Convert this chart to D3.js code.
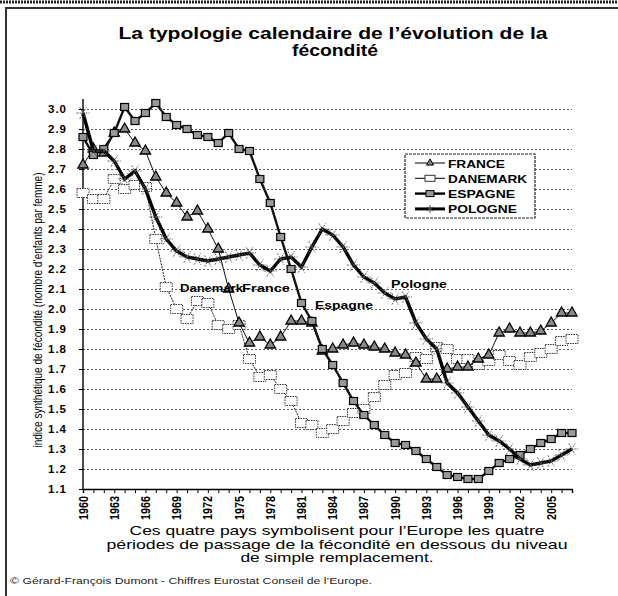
<!DOCTYPE html>
<html>
<head>
<meta charset="utf-8">
<script src="https://d3js.org/d3.v7.min.js"></script>
<style>
  body { margin: 0; background: #fff; }
  svg text { font-family: "Liberation Sans", Arial, sans-serif; }
  .grid line { stroke: #444; stroke-dasharray: 2 2; stroke-width: 0.9; }
</style>
</head>
<body>
<div id="chart"></div>
<script>
// years 1960..2007
const years = d3.range(1960, 2008);
const tickYears = [1960, 1963, 1966, 1969, 1972, 1975, 1978, 1981, 1984, 1987, 1990, 1993, 1996, 1999, 2002, 2005];
const yTicks = d3.range(11, 31).map(d => d / 10);

const france = [2.72, 2.80, 2.78, 2.88, 2.90, 2.83, 2.79, 2.66, 2.58, 2.53, 2.46, 2.49, 2.40, 2.30, 2.10, 1.93,
  1.83, 1.86, 1.82, 1.86, 1.94, 1.94, 1.93, 1.79, 1.80, 1.82, 1.83, 1.82, 1.81, 1.80, 1.78, 1.77,
  1.73, 1.65, 1.65, 1.70, 1.71, 1.71, 1.75, 1.77, 1.88, 1.90, 1.88, 1.88, 1.89, 1.93, 1.98, 1.98];
const danemark = [2.58, 2.55, 2.55, 2.65, 2.60, 2.62, 2.61, 2.35, 2.11, 2.00, 1.95, 2.04, 2.03, 1.92, 1.90, 1.92,
  1.75, 1.66, 1.67, 1.60, 1.54, 1.43, 1.42, 1.38, 1.40, 1.44, 1.48, 1.50, 1.56, 1.62, 1.67, 1.68,
  1.76, 1.75, 1.81, 1.80, 1.75, 1.75, 1.72, 1.74, 1.77, 1.74, 1.72, 1.76, 1.78, 1.80, 1.84, 1.85];
const espagne = [2.86, 2.77, 2.80, 2.88, 3.01, 2.94, 2.98, 3.03, 2.96, 2.92, 2.90, 2.87, 2.86, 2.83, 2.88, 2.80,
  2.79, 2.65, 2.53, 2.36, 2.20, 2.03, 1.94, 1.80, 1.72, 1.63, 1.54, 1.47, 1.42, 1.37, 1.33, 1.32,
  1.29, 1.25, 1.21, 1.17, 1.16, 1.15, 1.15, 1.19, 1.23, 1.25, 1.27, 1.30, 1.33, 1.35, 1.38, 1.38];
const pologne = [2.98, 2.79, 2.79, 2.74, 2.65, 2.69, 2.60, 2.46, 2.35, 2.29, 2.26, 2.25, 2.24, 2.25, 2.26, 2.27,
  2.28, 2.22, 2.19, 2.25, 2.26, 2.21, 2.31, 2.40, 2.37, 2.31, 2.22, 2.16, 2.13, 2.08, 2.05, 2.06,
  1.93, 1.85, 1.80, 1.63, 1.58, 1.51, 1.44, 1.37, 1.34, 1.30, 1.25, 1.22, 1.23, 1.24, 1.27, 1.30];

const W = 618, H = 596;
const svg = d3.select("#chart").append("svg").attr("width", W).attr("height", H);

// frame (top edge is a cut-off text row in the scan)
svg.append("line").attr("x1", 0).attr("x2", W).attr("y1", 2).attr("y2", 2)
  .attr("stroke", "#222").attr("stroke-width", 3).attr("stroke-dasharray", "2 1");
svg.append("rect").attr("x", 6).attr("y", 8).attr("width", W).attr("height", H)
  .attr("fill", "none").attr("stroke", "#333").attr("stroke-width", 2);

// title
svg.append("text").attr("x", 333).attr("y", 39).attr("text-anchor", "middle")
  .attr("font-size", 16).attr("font-weight", "bold")
  .attr("textLength", 429).attr("lengthAdjust", "spacingAndGlyphs")
  .text("La typologie calendaire de l\u2019\u00e9volution de la");
svg.append("text").attr("x", 335).attr("y", 56).attr("text-anchor", "middle")
  .attr("font-size", 16).attr("font-weight", "bold")
  .attr("textLength", 86).attr("lengthAdjust", "spacingAndGlyphs")
  .text("f\u00e9condit\u00e9");

const x = d3.scaleLinear().domain([1960, 2007]).range([83, 572]);
const y = d3.scaleLinear().domain([1.1, 3.0]).range([489, 109]);

// grid
svg.append("g").attr("class", "grid")
  .attr("transform", "translate(83,0)")
  .call(d3.axisLeft(y).tickValues(yTicks.slice(1)).tickSize(-489).tickFormat(""))
  .call(g => g.select(".domain").remove());

// y axis
const yAx = svg.append("g").attr("transform", "translate(83,0)")
  .call(d3.axisLeft(y).tickValues(yTicks).tickSize(4).tickFormat(d3.format(".1f")));
yAx.select(".domain").attr("d", "M0,99V489").attr("stroke-width", 1.4);
yAx.selectAll("text").attr("font-size", 11.5).attr("font-weight", "bold").attr("dx", -9)
  .attr("letter-spacing", 1)
  .attr("font-family", "Liberation Sans, Arial, sans-serif");

// x axis
const xAx = svg.append("g").attr("transform", "translate(0,489)")
  .call(d3.axisBottom(x).tickValues(years).tickSize(4).tickFormat(""));
xAx.select(".domain").attr("stroke-width", 1.4);
svg.append("g").selectAll("text").data(tickYears).join("text")
  .attr("transform", d => `translate(${x(d) + 4.5},${496}) rotate(-90)`)
  .attr("text-anchor", "end")
  .attr("font-size", 13).attr("font-weight", "bold")
  .attr("textLength", 24).attr("lengthAdjust", "spacingAndGlyphs")
  .text(d => d);

// y label
svg.append("text")
  .attr("transform", "translate(42,310) rotate(-90)")
  .attr("text-anchor", "middle").attr("font-size", 12.5)
  .attr("textLength", 275).attr("lengthAdjust", "spacingAndGlyphs")
  .text("indice synth\u00e9tique de f\u00e9condit\u00e9 (nombre d\u2019enfants par femme)");

const line = d3.line().x((d, i) => x(years[i])).y(d => y(d));

// Danemark
svg.append("path").datum(danemark).attr("d", line)
  .attr("fill", "none").attr("stroke", "#222").attr("stroke-width", 1).attr("stroke-dasharray", "2 1");
svg.append("g").selectAll("rect").data(danemark).join("rect")
  .attr("x", (d, i) => x(years[i]) - 6).attr("y", d => y(d) - 4.5)
  .attr("width", 12).attr("height", 9)
  .attr("fill", "#fff").attr("stroke", "#333").attr("stroke-width", 1).attr("stroke-dasharray", "1.5 1");

// France
svg.append("path").datum(france).attr("d", line)
  .attr("fill", "none").attr("stroke", "#111").attr("stroke-width", 1);
const tri = d3.symbol().type(d3.symbolTriangle).size(46);
svg.append("g").selectAll("path").data(france).join("path")
  .attr("transform", (d, i) => `translate(${x(years[i])},${y(d)})`)
  .attr("d", tri).attr("fill", "#888").attr("stroke", "#000").attr("stroke-width", 1.3);

// Espagne
svg.append("path").datum(espagne).attr("d", line)
  .attr("fill", "none").attr("stroke", "#111").attr("stroke-width", 2.4);
svg.append("g").selectAll("rect").data(espagne).join("rect")
  .attr("x", (d, i) => x(years[i]) - 4).attr("y", d => y(d) - 3.5)
  .attr("width", 8).attr("height", 7)
  .attr("fill", "#999").attr("stroke", "#000").attr("stroke-width", 1.2);

// Pologne
svg.append("path").datum(pologne).attr("d", line)
  .attr("fill", "none").attr("stroke", "#000").attr("stroke-width", 3.4);
const star = d3.symbol().type(d3.symbolAsterisk).size(120);
svg.append("g").selectAll("path").data(pologne).join("path")
  .attr("transform", (d, i) => `translate(${x(years[i])},${y(d)}) rotate(30)`)
  .attr("d", star).attr("fill", "none").attr("stroke", "#555").attr("stroke-width", 0.8)
  .attr("stroke-dasharray", "2 1");

// in-chart labels
const labels = [["Danemark", 180, 292, 63], ["France", 242, 292, 48], ["Espagne", 315, 309, 58], ["Pologne", 391, 288, 56]];
svg.append("g").selectAll("text").data(labels).join("text")
  .attr("x", d => d[1]).attr("y", d => d[2])
  .attr("textLength", d => d[3]).attr("lengthAdjust", "spacingAndGlyphs")
  .attr("font-size", 11.5).attr("font-weight", "bold").text(d => d[0]);

// legend
const lg = svg.append("g").attr("transform", "translate(405,154)");
lg.append("rect").attr("width", 130).attr("height", 64).attr("fill", "#fff")
  .attr("stroke", "#222").attr("stroke-width", 1.2).attr("stroke-dasharray", "3 1");
const names = ["FRANCE", "DANEMARK", "ESPAGNE", "POLOGNE"];
const nameLen = [57, 79, 67, 69];
names.forEach((n, i) => {
  const yy = 9 + i * 15.3;
  lg.append("line").attr("x1", 10).attr("x2", 40).attr("y1", yy).attr("y2", yy)
    .attr("stroke", "#000").attr("stroke-width", [1, 1, 2.4, 3][i]);
  if (i === 0) lg.append("path").attr("transform", `translate(25,${yy})`).attr("d", d3.symbol().type(d3.symbolTriangle).size(22)).attr("fill", "#888").attr("stroke", "#000");
  if (i === 1) lg.append("rect").attr("x", 20).attr("y", yy - 3).attr("width", 10).attr("height", 6).attr("fill", "#fff").attr("stroke", "#333");
  if (i === 2) lg.append("rect").attr("x", 21).attr("y", yy - 3).attr("width", 8).attr("height", 6).attr("fill", "#999").attr("stroke", "#000");
  if (i === 3) lg.append("path").attr("transform", `translate(25,${yy})`).attr("d", d3.symbol().type(d3.symbolAsterisk).size(40)).attr("stroke", "#444");
  lg.append("text").attr("x", 43).attr("y", yy + 4.5).attr("font-size", 11).attr("font-weight", "bold")
    .attr("textLength", nameLen[i]).attr("lengthAdjust", "spacingAndGlyphs").text(n);
});

// caption
const caption = ["Ces quatre pays symbolisent pour l\u2019Europe les quatre",
  "p\u00e9riodes de passage de la f\u00e9condit\u00e9 en dessous du niveau",
  "de simple remplacement."];
const capLen = [415, 461, 193];
svg.append("g").selectAll("text").data(caption).join("text")
  .attr("x", 337).attr("y", (d, i) => 535 + i * 13.7).attr("text-anchor", "middle")
  .attr("textLength", (d, i) => capLen[i]).attr("lengthAdjust", "spacingAndGlyphs")
  .attr("font-size", 13.5).text(d => d);

svg.append("text").attr("x", 10).attr("y", 584).attr("font-size", 9.5).attr("fill", "#222")
  .attr("textLength", 362).attr("lengthAdjust", "spacingAndGlyphs")
  .text("\u00a9 G\u00e9rard-Fran\u00e7ois Dumont - Chiffres Eurostat Conseil de l\u2019Europe.");
</script>
</body>
</html>
